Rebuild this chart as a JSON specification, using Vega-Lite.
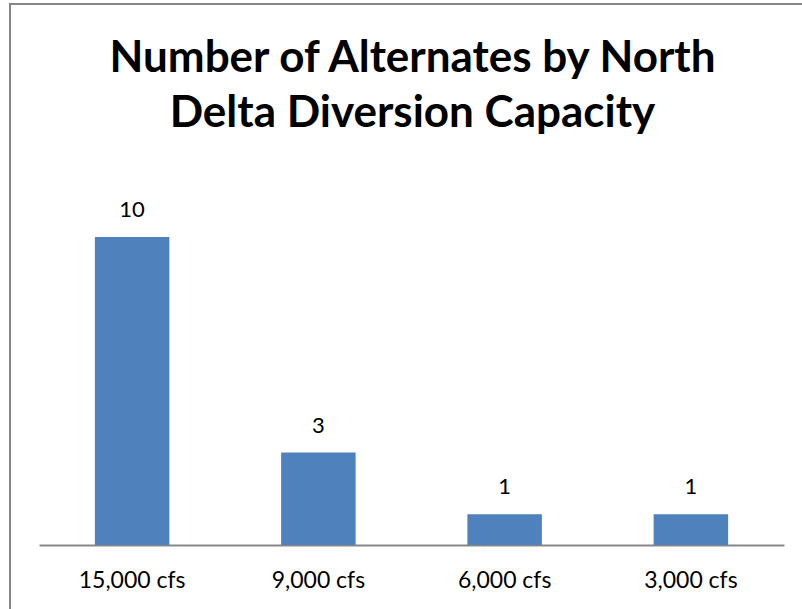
{
  "$schema": "https://vega.github.io/schema/vega-lite/v6.json",
  "width": 793,
  "height": 611,
  "autosize": {"type": "none"},
  "padding": {"left": 10, "top": 4, "right": 0, "bottom": 0},
  "background": "white",
  "config": {
    "view": {"stroke": "#878787", "strokeWidth": 2},
    "font": "Lato"
  },
  "title": {
    "text": ["Number of Alternates by North", "Delta Diversion Capacity"],
    "font": "Lato",
    "fontSize": 44,
    "fontWeight": "bold",
    "color": "black",
    "anchor": "middle",
    "lineHeight": 55,
    "dx": 6,
    "dy": 136
  },
  "data": {
    "values": [
      {"capacity": "15,000 cfs", "count": 10},
      {"capacity": "9,000 cfs", "count": 3},
      {"capacity": "6,000 cfs", "count": 1},
      {"capacity": "3,000 cfs", "count": 1}
    ]
  },
  "encoding": {
    "x": {
      "field": "capacity",
      "type": "nominal",
      "sort": null,
      "scale": {"range": [29, 774], "paddingInner": 0.6, "paddingOuter": 0.3},
      "axis": {
        "title": null,
        "labelAngle": 0,
        "domainColor": "#878787",
        "domainWidth": 2,
        "ticks": false,
        "labelFontSize": 23,
        "labelColor": "black",
        "labelFont": "Lato",
        "labelPadding": 24,
        "offset": -70
      }
    },
    "y": {
      "field": "count",
      "type": "quantitative",
      "scale": {"domain": [-2.273, 17.565], "nice": false, "zero": false},
      "axis": null
    }
  },
  "layer": [
    {
      "mark": {"type": "bar", "color": "#4F81BD"},
      "encoding": {"y2": {"datum": 0}}
    },
    {
      "mark": {"type": "text", "baseline": "alphabetic", "dy": -20, "fontSize": 22, "color": "black", "font": "Lato"},
      "encoding": {"text": {"field": "count", "type": "quantitative"}}
    }
  ]
}
